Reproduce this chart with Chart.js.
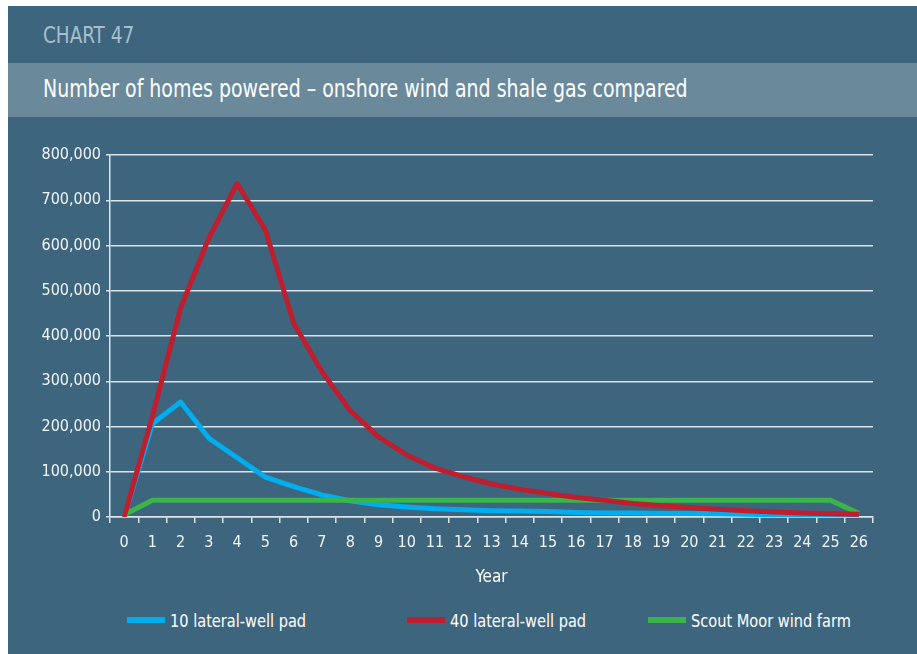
<!DOCTYPE html>
<html>
<head>
<meta charset="utf-8">
<script src="https://cdn.jsdelivr.net/npm/chart.js@4.4.1/dist/chart.umd.min.js"></script>
<style>
  html, body { margin:0; padding:0; background:#ffffff; width:917px; height:654px; overflow:hidden; }
  body { font-family: "Liberation Sans Narrow", "DejaVu Sans Condensed", "Liberation Sans", sans-serif; }
  #panel { position:absolute; left:8px; top:6px; width:909px; height:648px; background:#3e657e; }
  #kicker { position:absolute; left:43px; top:22px; font-size:23px; color:#a7bfcc; transform:scaleX(0.89); transform-origin:left center; }
  #band { position:absolute; left:8px; top:63px; width:909px; height:54px; background:#6a8a9c; }
  #title { position:absolute; left:43px; top:74px; font-size:25px; color:#ffffff; white-space:nowrap; transform:scaleX(0.842); transform-origin:left center; }
  #wrap { position:absolute; left:8px; top:130px; width:909px; height:470px; }
  #legend { position:absolute; left:0; top:608px; width:917px; height:24px; }
  .item { position:absolute; top:0; height:24px; display:flex; align-items:center; color:#ffffff; font-size:18px; white-space:nowrap; }
  .sw { width:38px; height:6px; margin-right:5px; flex:none; }
  .tx { display:inline-block; transform:scaleX(0.9); transform-origin:left center; }
</style>
</head>
<body>
<div id="panel"></div>
<div id="kicker">CHART 47</div>
<div id="band"></div>
<div id="title">Number of homes powered – onshore wind and shale gas compared</div>
<div id="wrap"><canvas id="c" width="909" height="470"></canvas></div>
<div id="legend"></div>
<script>
const years = ["0","1","2","3","4","5","6","7","8","9","10","11","12","13","14","15","16","17","18","19","20","21","22","23","24","25","26"];
const pad10 = [0, 206000, 254000, 174000, 131000, 88000, 67000, 49000, 36000, 27000, 22000, 18000, 16000, 14000, 13000, 12000, 10000, 9000, 9000, 8000, 8000, 7000, 6000, 5000, 4000, 4000, 3000];
const pad40 = [0, 222000, 462000, 617000, 737000, 634000, 428000, 321000, 235000, 177000, 137000, 108000, 89000, 73000, 61000, 52000, 43000, 37000, 30000, 25000, 21000, 17000, 14000, 11000, 9000, 7000, 6000];
const windFarm = [5000, 37000, 37000, 37000, 37000, 37000, 37000, 37000, 37000, 37000, 37000, 37000, 37000, 37000, 37000, 37000, 37000, 37000, 37000, 37000, 37000, 37000, 37000, 37000, 37000, 37000, 8000];
const seriesNames = ["10 lateral-well pad", "40 lateral-well pad", "Scout Moor wind farm"];
const seriesColors = ["#00aeef", "#be1e2d", "#39b54a"];
const legendX = [127, 407, 648];

const FONT = '"Liberation Sans Narrow", "DejaVu Sans Condensed", "Liberation Sans", sans-serif';
Chart.defaults.font.family = FONT;
Chart.defaults.color = '#ffffff';

const gridColor = '#dde4e9';

const chart = new Chart(document.getElementById('c'), {
  type: 'line',
  data: {
    labels: years,
    datasets: [
      { label: seriesNames[0], data: pad10, borderColor: seriesColors[0], backgroundColor: seriesColors[0], order: 3 },
      { label: seriesNames[1], data: pad40, borderColor: seriesColors[1], backgroundColor: seriesColors[1], order: 1 },
      { label: seriesNames[2], data: windFarm, borderColor: seriesColors[2], backgroundColor: seriesColors[2], order: 2 }
    ]
  },
  options: {
    responsive: false,
    animation: false,
    devicePixelRatio: 1,
    layout: { padding: { left: 0, right: 44, top: 25, bottom: 0 } },
    elements: {
      line: { borderWidth: 5, tension: 0, borderJoinStyle: 'round', fill: false },
      point: { radius: 0, hoverRadius: 0 }
    },
    plugins: { legend: { display: false }, tooltip: { enabled: false } },
    scales: {
      x: {
        type: 'category',
        offset: true,
        grid: { offset: true, drawOnChartArea: false, drawTicks: true, tickLength: 6, color: gridColor, lineWidth: 1.5 },
        border: { display: true, color: gridColor, width: 1.5 },
        ticks: { color: '#f2f5f7', font: { size: 16 }, padding: 10, maxRotation: 0, autoSkip: false },
        title: { display: true, text: 'Year', color: '#ffffff', font: { size: 17 }, padding: { top: 0, bottom: 12 } },
        afterFit: (s) => { s.height = 83; }
      },
      y: {
        min: 0, max: 800000,
        grid: { drawOnChartArea: true, drawTicks: true, tickLength: 4, color: gridColor, lineWidth: 1.5 },
        border: { display: true, color: gridColor, width: 1.5 },
        ticks: {
          stepSize: 100000, color: '#f2f5f7', font: { size: 16 }, padding: 5,
          callback: (v) => v.toLocaleString('en-GB')
        },
        afterFit: (s) => { s.width = 102; }
      }
    }
  }
});

const leg = document.getElementById('legend');
chart.data.datasets.forEach((ds, i) => {
  const it = document.createElement('div');
  it.className = 'item';
  it.style.left = legendX[i] + 'px';
  const sw = document.createElement('span');
  sw.className = 'sw';
  sw.style.background = ds.borderColor;
  const tx = document.createElement('span');
  tx.className = 'tx';
  tx.textContent = ds.label;
  it.appendChild(sw); it.appendChild(tx);
  leg.appendChild(it);
});
</script>
</body>
</html>
